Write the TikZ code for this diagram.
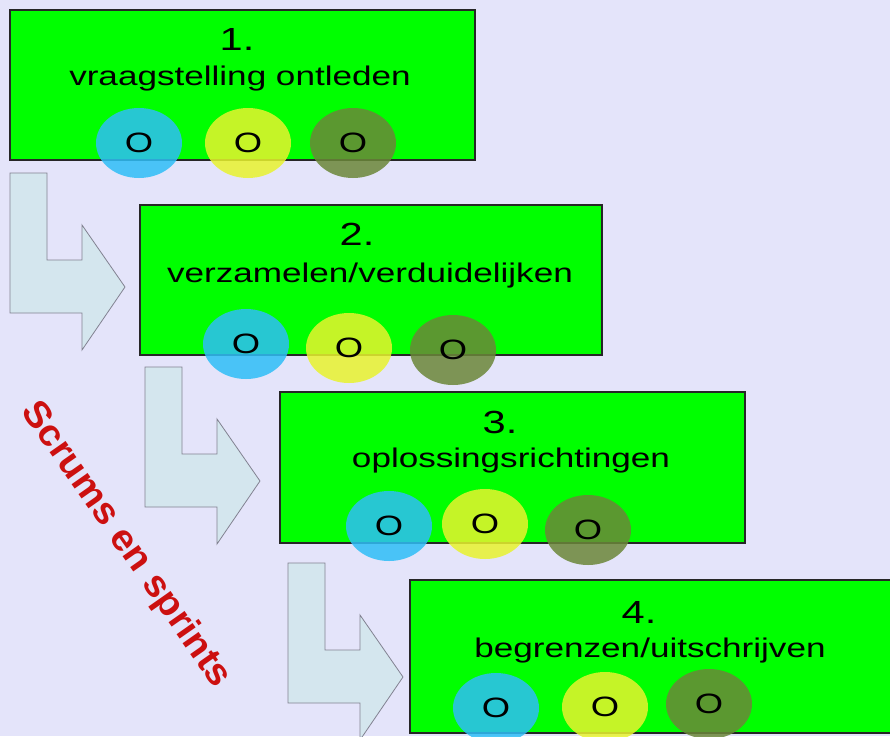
\documentclass[tikz,border=0pt]{standalone}
\usepackage{fontspec}
\setmainfont{Liberation Sans}[FakeStretch=1.3]
\newfontfamily\scrumfont{Liberation Sans}[FakeStretch=1.05]
\usetikzlibrary{shapes.geometric}

\definecolor{lavendel}{RGB}{228,228,250}
\definecolor{fel}{RGB}{0,255,0}
\definecolor{blauw}{RGB}{47,190,247}
\definecolor{geel}{RGB}{232,243,46}
\definecolor{olijf}{RGB}{107,135,57}
\definecolor{pijlblauw}{RGB}{212,230,238}
\definecolor{pijlrand}{RGB}{130,130,145}
\definecolor{rood}{RGB}{204,16,16}

\tikzset{
  stap/.style={draw=black!85, line width=1.5pt, fill=fel, minimum width=465pt, minimum height=150pt, inner sep=0pt},
  nummer/.style={anchor=base, font=\fontsize{32}{36}\selectfont},
  titel/.style={anchor=base, font=\fontsize{27}{30}\selectfont},
  bol/.style={ellipse, fill opacity=0.85, text opacity=1, minimum width=86pt, minimum height=70pt, inner sep=0pt, font=\fontsize{28}{30}\selectfont},
  pijl/.style={draw=pijlrand, fill=pijlblauw, line width=0.8pt, line join=miter},
  lpijl/.pic={\draw[pijl] (0,0) -- (37,0) -- (37,87) -- (72,87) -- (72,52) -- (115,114) -- (72,177) -- (72,140) -- (0,140) -- cycle;}
}

\begin{document}
\begin{tikzpicture}[x=1pt,y=-1pt]
    \useasboundingbox (0,0) rectangle (890,736);
    \fill [lavendel] (0,0) rectangle (890,736);

    \coordinate (p1) at (10,173);
    \coordinate (p2) at (145,367);
    \coordinate (p3) at (288,563);
    \pic at (p1) {lpijl};
    \pic at (p2) {lpijl};
    \pic at (p3) {lpijl};

    \node [stap] (b1) at (242.5,85) {};
    \node [stap, minimum width=462pt] (b2) at (371,280) {};
    \node [stap, minimum height=151pt] (b3) at (512.5,467.5) {};
    \node [stap, minimum width=483pt, minimum height=153pt] (b4) at (651.5,656.5) {};

    \node [nummer] (n1) at (237,50) {1.};
    \node [titel] (t1) at (240,85) {vraagstelling ontleden};
    \node [nummer] (n2) at (357,245) {2.};
    \node [titel] (t2) at (370,282) {verzamelen/verduidelijken};
    \node [nummer] (n3) at (500,433) {3.};
    \node [titel] (t3) at (511,467) {oplossingsrichtingen};
    \node [nummer] (n4) at (639,623) {4.};
    \node [titel] (t4) at (650,657) {begrenzen/uitschrijven};

    \node [bol, fill=blauw] (c11) at (139,143) {O};
    \node [bol, fill=geel] (c12) at (248,143) {O};
    \node [bol, fill=olijf] (c13) at (353,143) {O};
    \node [bol, fill=blauw] (c21) at (246,344) {O};
    \node [bol, fill=geel] (c22) at (349,348) {O};
    \node [bol, fill=olijf] (c23) at (453,350) {O};
    \node [bol, fill=blauw] (c31) at (389,526) {O};
    \node [bol, fill=geel] (c32) at (485,524) {O};
    \node [bol, fill=olijf] (c33) at (588,530) {O};
    \node [bol, fill=blauw] (c41) at (496,708) {O};
    \node [bol, fill=geel] (c42) at (605,707) {O};
    \node [bol, fill=olijf] (c43) at (709,704) {O};

    \node [rotate=-55, text=rood, font=\scrumfont\bfseries\fontsize{37}{40}\selectfont] (scrum) at (126,545) {Scrums en sprints};
  \end{tikzpicture}
\end{document}
